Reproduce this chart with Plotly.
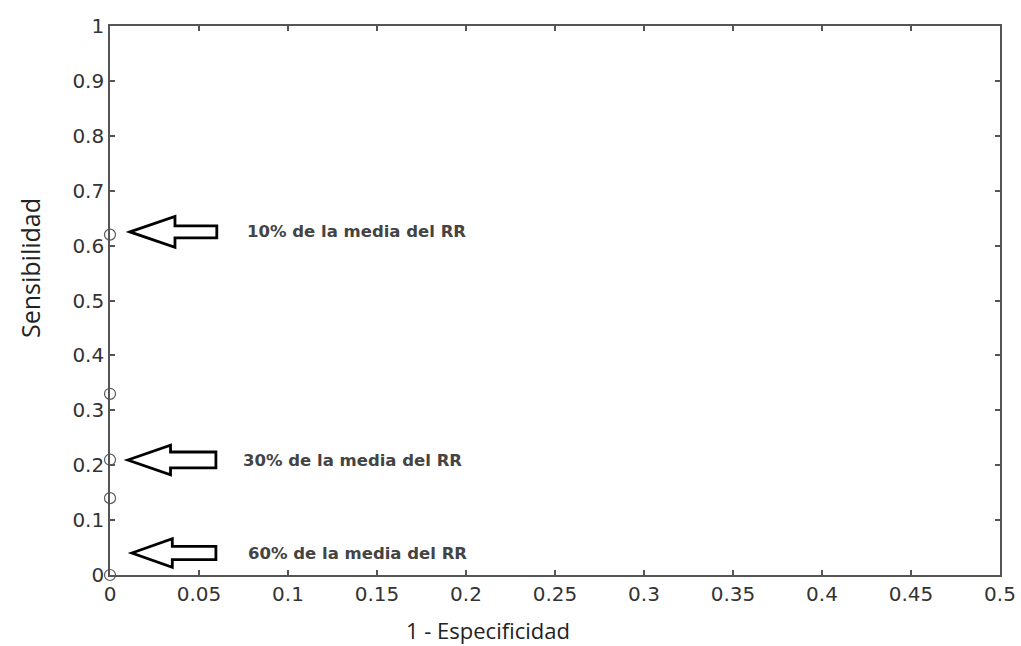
import plotly.graph_objects as go

# Data (ROC points)
fpr = [0, 0, 0, 0, 0]
sens = [0.62, 0.33, 0.21, 0.14, 0.0]

x_ticks = [0, 0.05, 0.1, 0.15, 0.2, 0.25, 0.3, 0.35, 0.4, 0.45, 0.5]
x_tick_labels = ["0", "0.05", "0.1", "0.15", "0.2", "0.25", "0.3", "0.35", "0.4", "0.45", "0.5"]
y_ticks = [0, 0.1, 0.2, 0.3, 0.4, 0.5, 0.6, 0.7, 0.8, 0.9, 1]
y_tick_labels = ["0", "0.1", "0.2", "0.3", "0.4", "0.5", "0.6", "0.7", "0.8", "0.9", "1"]

labels = ["10% de la media del RR", "30% de la media del RR", "60% de la media del RR"]
label_x = [0.0758, 0.0736, 0.0764]
label_y = [0.6266, 0.2077, 0.040]

fig = go.Figure()
fig.add_trace(go.Scatter(
    x=fpr, y=sens, mode="markers",
    marker=dict(symbol="circle-open", size=11, color="#5a5a5a", line=dict(width=1.2)),
    cliponaxis=False, showlegend=False, hoverinfo="x+y"
))

# Arrow geometry (data units)
arrows = [
    dict(y=0.625, tip=0.0112, back=0.0365, tail=0.060, hh=0.028, sh=0.011),
    dict(y=0.2095, tip=0.010, back=0.034, tail=0.0595, hh=0.027, sh=0.0145),
    dict(y=0.040, tip=0.0123, back=0.035, tail=0.0595, hh=0.026, sh=0.012),
]
for a in arrows:
    y = a["y"]
    path = (f"M {a['tip']} {y} L {a['back']} {y + a['hh']} L {a['back']} {y + a['sh']} "
            f"L {a['tail']} {y + a['sh']} L {a['tail']} {y - a['sh']} L {a['back']} {y - a['sh']} "
            f"L {a['back']} {y - a['hh']} Z")
    fig.add_shape(type="path", path=path, xref="x", yref="y",
                  line=dict(color="black", width=2.8), fillcolor="white")

for lx, ly, t in zip(label_x, label_y, labels):
    fig.add_annotation(x=lx, y=ly, xref="x", yref="y", text=t, showarrow=False,
                       xanchor="left", yanchor="middle",
                       font=dict(family="DejaVu Sans", size=16.5, color="#444444", weight="bold"))

# Axis titles as annotations
fig.add_annotation(x=-0.0899, y=0.5592, xref="paper", yref="paper", text="Sensibilidad",
                   showarrow=False, textangle=-90, xanchor="center", yanchor="middle",
                   font=dict(family="Open Sans", size=25, color="#222222"))
fig.add_annotation(x=0.4247, y=-0.1, xref="paper", yref="paper", text="1 - Especificidad",
                   showarrow=False, xanchor="center", yanchor="middle",
                   font=dict(family="Open Sans", size=22, color="#222222"))

axis_common = dict(showgrid=False, zeroline=False, showline=True, linecolor="#555555", linewidth=1.6,
                   mirror="ticks", ticks="inside", ticklen=5, tickcolor="#555555", tickwidth=1.5,
                   automargin=False,
                   tickfont=dict(family="DejaVu Sans", size=20, color="#333333"))

fig.update_xaxes(range=[0, 0.5], tickvals=x_ticks, ticktext=x_tick_labels, **axis_common)
fig.update_yaxes(range=[0, 1], tickvals=y_ticks, ticktext=y_tick_labels, **axis_common)

fig.update_layout(width=1021, height=646, margin=dict(l=110, r=21, t=26, b=71),
                  plot_bgcolor="white", paper_bgcolor="white")

fig.write_html("out.html", config={"displayModeBar": False},
               post_script="document.body.style.margin='0';document.body.style.overflow='hidden';")
